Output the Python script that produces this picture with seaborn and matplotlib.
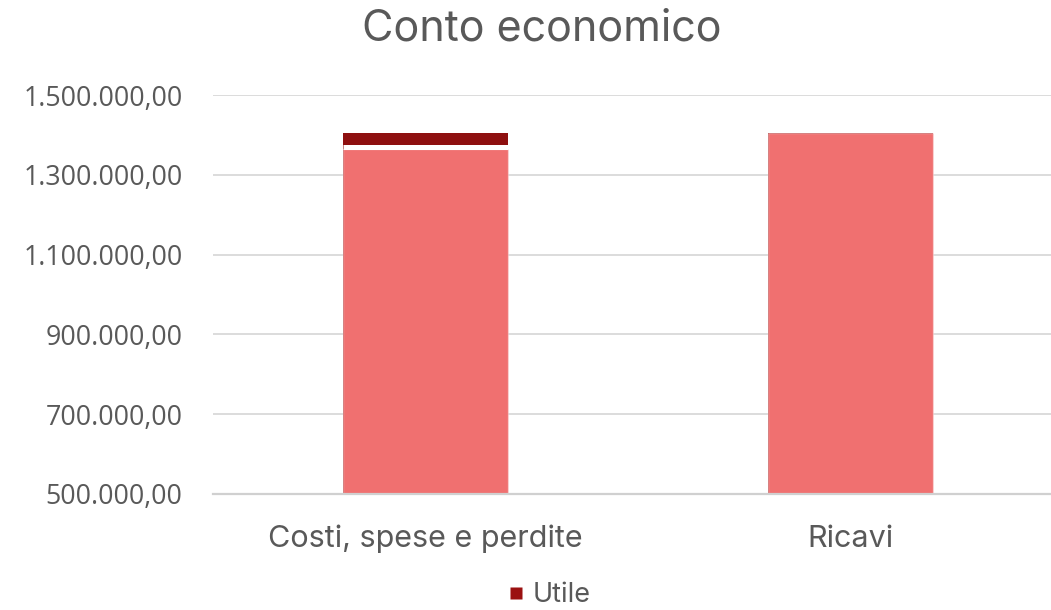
import matplotlib
matplotlib.use("Agg")
import matplotlib.pyplot as plt
import matplotlib.transforms as mtransforms
from matplotlib.lines import Line2D
import seaborn as sns
import pandas as pd

# ---- data ----
categories = ["Costi, spese e perdite", "Ricavi"]
importo = [1364000, 1404000]
utile = [40000, 0]
y_ticks = [500000, 700000, 900000, 1100000, 1300000, 1500000]
title = "Conto economico"
legend_label = "Utile"

LIGHT = "#F07070"
DARK = "#8E1010"
TEXT = "#595959"
GRID = "#D9D9D9"

sns.set_theme(style="white")
plt.rcParams["font.family"] = ["Open Sans", "DejaVu Sans"]

df = pd.DataFrame({"cat": categories, "importo": importo, "utile": utile})
df["totale"] = df["importo"] + df["utile"]

fig = plt.figure(figsize=(10.51, 6.10), dpi=100)
ax = fig.add_axes([213 / 1051, 116 / 610, 850 / 1051, 399 / 610])

# stacked: total (dark) behind, importo (light) in front
sns.barplot(data=df, x="cat", y="totale", color=DARK, saturation=1, width=0.39,
            edgecolor="none", linewidth=0, ax=ax, zorder=2)
sns.barplot(data=df, x="cat", y="importo", color=LIGHT, saturation=1, width=0.39,
            edgecolor=(1, 1, 1, 0.35), linewidth=1, ax=ax, zorder=3)

# white separator between stacked segments
off = mtransforms.offset_copy(ax.transData, fig=fig, x=0, y=2.5, units="dots")
light_patches = ax.patches[len(df):]
for p, u, v in zip(light_patches, df["utile"], df["importo"]):
    if u > 0:
        ax.plot([p.get_x(), p.get_x() + p.get_width()], [v, v], color="white",
                lw=3.6, solid_capstyle="butt", transform=off, zorder=4)

ax.set_ylim(y_ticks[0], y_ticks[-1])
ax.set_xlim(-0.5, 1.5)
ax.set_yticks(y_ticks)

def fmt(v):
    s = f"{v:,.2f}"
    return s.replace(",", "X").replace(".", ",").replace("X", ".")

ax.set_yticklabels([fmt(v) for v in y_ticks])
ax.yaxis.grid(True, color=GRID, linewidth=1.3)
ax.set_axisbelow(True)
for s in ["top", "right", "left"]:
    ax.spines[s].set_visible(False)
ax.spines["bottom"].set_color("#D0D0D0")
ax.spines["bottom"].set_linewidth(1.6)
ax.spines["bottom"].set_zorder(5)

ax.tick_params(axis="y", length=0, pad=22, labelsize=19.3, labelcolor=TEXT)
ax.tick_params(axis="x", length=0, pad=22, labelsize=22, labelcolor=TEXT)
for t in ax.get_yticklabels():
    t.set_family(["Open Sans", "DejaVu Sans"])
for t in ax.get_xticklabels():
    t.set_family(["Inter", "DejaVu Sans"])
ax.set_xlabel("")
ax.set_ylabel("")

fig.text(542 / 1051, 1 - 29 / 610, title, ha="center", va="center",
         fontsize=31, color=TEXT, family=["Inter", "DejaVu Sans"])

handle = Line2D([], [], marker="s", linestyle="none", markersize=8.6,
                markerfacecolor="#9B1111", markeredgecolor="none")
fig.legend([handle], [legend_label], loc="center", bbox_to_anchor=(547 / 1051, 1 - 595 / 610),
           frameon=False, labelcolor=TEXT, handletextpad=0.15, handlelength=0.9,
           borderpad=0.1, prop={"family": ["Inter", "DejaVu Sans"], "size": 19.5})

fig.savefig("out.png", dpi=100)
